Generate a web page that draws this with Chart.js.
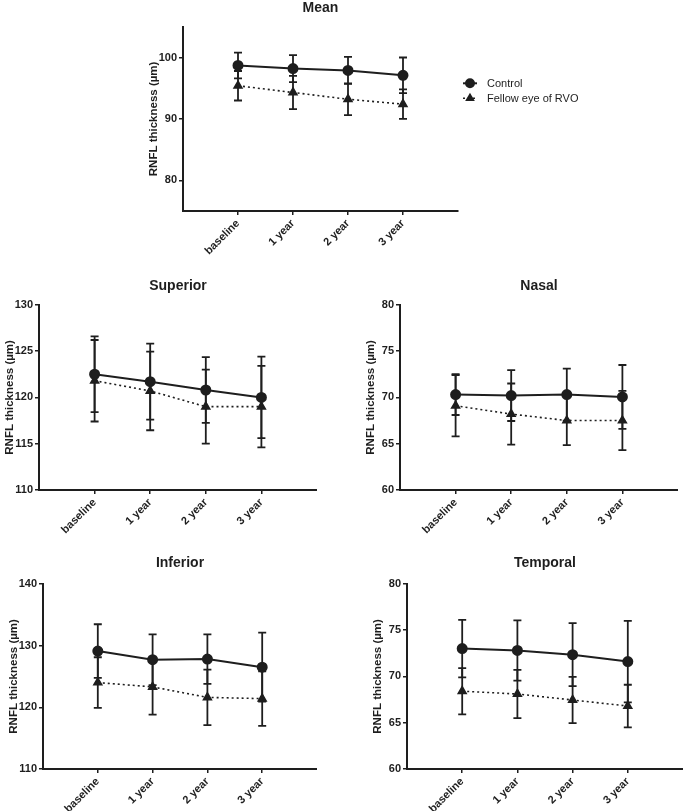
<!DOCTYPE html>
<html><head><meta charset="utf-8">
<script src="https://cdn.jsdelivr.net/npm/chart.js@4.4.1/dist/chart.umd.min.js"></script>
<style>
html,body{margin:0;padding:0;background:#fff;width:685px;height:811px;overflow:hidden;position:relative}
canvas{position:absolute}
</style></head><body>
<canvas id="cMean" width="542" height="271" style="left:143px;top:0px"></canvas>
<canvas id="cSup" width="318" height="272" style="left:-1px;top:278px"></canvas>
<canvas id="cNas" width="318" height="272" style="left:360px;top:278px"></canvas>
<canvas id="cInf" width="314" height="274" style="left:3px;top:555px"></canvas>
<canvas id="cTem" width="316" height="274" style="left:367px;top:555px"></canvas>
<script>
// ---- data ----
const categories = ['baseline', '1 year', '2 year', '3 year'];
const seriesNames = ['Control', 'Fellow eye of RVO'];
const yAxisTitle = 'RNFL thickness (µm)';

const meanControl   = [98.7, 98.2, 97.9, 97.1];
const meanControlSD = [2.1, 2.2, 2.2, 2.9];
const meanFellow    = [95.4, 94.3, 93.2, 92.4];
const meanFellowSD  = [2.4, 2.7, 2.6, 2.4];
const meanTicks     = [80, 90, 100];

const supControl   = [122.5, 121.7, 120.8, 120.0];
const supControlSD = [4.1, 4.1, 3.55, 4.4];
const supFellow    = [121.8, 120.7, 119.0, 119.0];
const supFellowSD  = [4.4, 4.25, 4.0, 4.4];
const supTicks     = [110, 115, 120, 125, 130];

const nasControl   = [70.3, 70.2, 70.3, 70.05];
const nasControlSD = [2.2, 2.75, 2.8, 3.45];
const nasFellow    = [69.1, 68.2, 67.5, 67.5];
const nasFellowSD  = [3.3, 3.3, 2.65, 3.2];
const nasTicks     = [60, 65, 70, 75, 80];

const infControl   = [129.1, 127.7, 127.8, 126.5];
const infControlSD = [4.35, 4.1, 4.0, 5.6];
const infFellow    = [124.0, 123.3, 121.6, 121.4];
const infFellowSD  = [4.1, 4.5, 4.5, 4.4];
const infTicks     = [110, 120, 130, 140];

const temControl   = [73.0, 72.8, 72.35, 71.6];
const temControlSD = [3.1, 3.25, 3.4, 4.4];
const temFellow    = [68.4, 68.1, 67.45, 66.8];
const temFellowSD  = [2.5, 2.6, 2.5, 2.3];
const temTicks     = [60, 65, 70, 75, 80];

// ---- styling ----
const FONT = "'Liberation Sans', Arial, sans-serif";
const INK = '#1e1e1e';

const errorBarPlugin = {
  id: 'errorBars',
  beforeDatasetsDraw(chart) {
    const { ctx, scales: { x, y } } = chart;
    ctx.save();
    chart.data.datasets.forEach(ds => {
      if (!ds.sd) return;
      ctx.strokeStyle = INK; ctx.lineWidth = 1.8; ctx.setLineDash([]);
      ds.data.forEach((p, i) => {
        const px = x.getPixelForValue(p.x);
        const t = y.getPixelForValue(p.y + ds.sd[i]);
        const b = y.getPixelForValue(p.y - ds.sd[i]);
        ctx.beginPath();
        ctx.moveTo(px, t); ctx.lineTo(px, b);
        ctx.moveTo(px - 4, t); ctx.lineTo(px + 4, t);
        ctx.moveTo(px - 4, b); ctx.lineTo(px + 4, b);
        ctx.stroke();
      });
    });
    ctx.restore();
  }
};

const keyPlugin = {
  id: 'seriesKey',
  afterDraw(chart, args, opts) {
    if (!opts || !opts.show) return;
    const ctx = chart.ctx;
    ctx.save();
    chart.data.datasets.forEach((ds, i) => {
      const y = opts.y + i * opts.gap;
      ctx.strokeStyle = INK; ctx.fillStyle = INK;
      ctx.lineWidth = ds.borderWidth;
      ctx.setLineDash(ds.borderDash || []);
      ctx.beginPath(); ctx.moveTo(opts.x, y); ctx.lineTo(opts.x + 14, y); ctx.stroke();
      ctx.setLineDash([]);
      Chart.helpers.drawPoint(ctx, { pointStyle: ds.pointStyle, radius: ds.pointRadius - 0.5, rotation: 0, borderWidth: 1 }, opts.x + 7, y);
      ctx.font = '11px ' + FONT;
      ctx.textBaseline = 'middle'; ctx.textAlign = 'left';
      ctx.fillText(ds.label, opts.x + 24, y + 0.5);
    });
    ctx.restore();
  }
};

function makeChart(id, title, ctrl, ctrlSD, fel, felSD, yMin, yMax, yTicks, extraRight, titleGap, key) {
  const axisGrid = { drawOnChartArea: false, drawTicks: true, tickLength: 4, color: INK, lineWidth: 1.5 };
  const axisBorder = { display: true, color: INK, width: 2 };
  return new Chart(document.getElementById(id), {
    type: 'line',
    data: {
      datasets: [
        { label: seriesNames[0], data: ctrl.map((v, i) => ({ x: i + 1, y: v })), sd: ctrlSD,
          borderColor: INK, backgroundColor: INK, borderWidth: 2, pointStyle: 'circle',
          pointRadius: 4.5, pointBackgroundColor: INK, pointBorderColor: INK, tension: 0 },
        { label: seriesNames[1], data: fel.map((v, i) => ({ x: i + 1, y: v })), sd: felSD,
          borderColor: INK, backgroundColor: INK, borderWidth: 1.6, borderDash: [2, 3], pointStyle: 'triangle',
          pointRadius: 4.5, pointBackgroundColor: INK, pointBorderColor: INK, tension: 0 }
      ]
    },
    options: {
      responsive: false, animation: false, devicePixelRatio: 1,
      layout: { padding: { left: 0, right: extraRight, top: 0, bottom: 0 }, autoPadding: false },
      plugins: {
        legend: { display: false }, tooltip: { enabled: false },
        title: { display: true, text: title, fullSize: false, color: INK,
                 font: { family: FONT, size: 14, weight: 'bold' }, padding: { top: 0, bottom: titleGap } },
        seriesKey: key || { show: false }
      },
      scales: {
        x: {
          type: 'linear', min: 0, max: categories.length + 1,
          afterBuildTicks: s => { s.ticks = categories.map((c, i) => ({ value: i + 1 })); },
          afterFit: s => { s.height = 60; },
          grid: axisGrid, border: axisBorder,
          ticks: { autoSkip: false, maxRotation: 45, minRotation: 45, padding: 2, color: INK,
                   font: { family: FONT, size: 11, weight: 'bold' },
                   callback: v => categories[v - 1] ?? '' }
        },
        y: {
          min: yMin, max: yMax,
          afterBuildTicks: s => { s.ticks = yTicks.map(v => ({ value: v })); },
          afterFit: s => { s.width = 40; },
          grid: axisGrid, border: axisBorder,
          title: { display: true, text: yAxisTitle, color: INK,
                   font: { family: FONT, size: 11.5, weight: 'bold' }, padding: { top: 4, bottom: 0 } },
          ticks: { padding: 2, color: INK, font: { family: FONT, size: 11, weight: 'bold' } }
        }
      }
    },
    plugins: [errorBarPlugin, keyPlugin]
  });
}

makeChart('cMean', 'Mean', meanControl, meanControlSD, meanFellow, meanFellowSD, 75, 105, meanTicks, 227, 10,
          { show: true, x: 320, y: 83.3, gap: 15 });
makeChart('cSup', 'Superior', supControl, supControlSD, supFellow, supFellowSD, 110, 130, supTicks, 0, 10);
makeChart('cNas', 'Nasal', nasControl, nasControlSD, nasFellow, nasFellowSD, 60, 80, nasTicks, 0, 10);
makeChart('cInf', 'Inferior', infControl, infControlSD, infFellow, infFellowSD, 110, 140, infTicks, 0, 12);
makeChart('cTem', 'Temporal', temControl, temControlSD, temFellow, temFellowSD, 60, 80, temTicks, 0, 12);
</script>
</body></html>
